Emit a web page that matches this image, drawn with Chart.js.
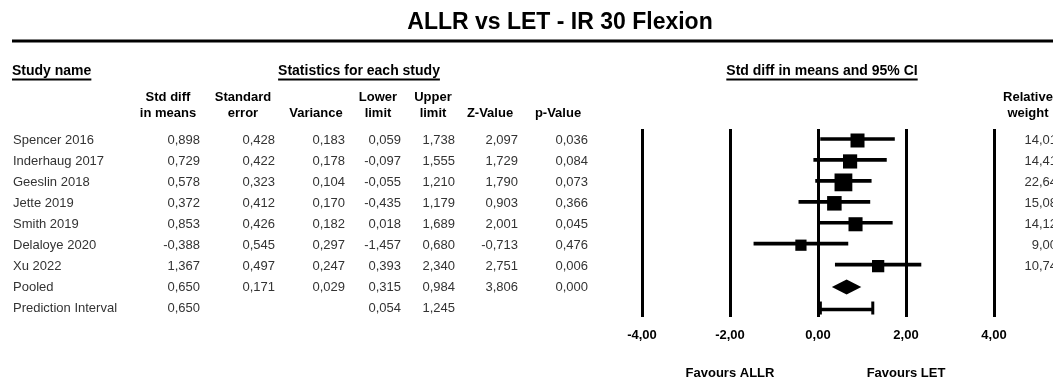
<!DOCTYPE html>
<html>
<head>
<meta charset="utf-8">
<script src="https://cdn.jsdelivr.net/npm/chart.js@4.4.1/dist/chart.umd.min.js"></script>
<style>
  html, body { margin: 0; padding: 0; background: #fff; overflow: hidden; }
  #wrap { width: 1053px; height: 380px; position: relative; }
</style>
</head>
<body>
<div id="wrap"><canvas id="forest" width="1053" height="380"></canvas></div>
<script>
// Forest plot: standardised mean difference, ALLR vs LET, internal rotation at 30° flexion
const chartTitle = 'ALLR vs LET - IR 30 Flexion';
const studies = ['Spencer 2016', 'Inderhaug 2017', 'Geeslin 2018', 'Jette 2019', 'Smith 2019', 'Delaloye 2020', 'Xu 2022'];
const stdDiff  = [0.898, 0.729, 0.578, 0.372, 0.853, -0.388, 1.367];
const stdErr   = [0.428, 0.422, 0.323, 0.412, 0.426, 0.545, 0.497];
const variance = [0.183, 0.178, 0.104, 0.170, 0.182, 0.297, 0.247];
const lowerLim = [0.059, -0.097, -0.055, -0.435, 0.018, -1.457, 0.393];
const upperLim = [1.738, 1.555, 1.210, 1.179, 1.689, 0.680, 2.340];
const zValue   = [2.097, 1.729, 1.790, 0.903, 2.001, -0.713, 2.751];
const pValue   = [0.036, 0.084, 0.073, 0.366, 0.045, 0.476, 0.006];
const relWeight = [14.01, 14.41, 22.64, 15.08, 14.12, 9.00, 10.74];

// Pooled (random effects) summary and prediction interval
const pooled = { label: 'Pooled', est: 0.650, se: 0.171, variance: 0.029, lower: 0.315, upper: 0.984, z: 3.806, p: 0.000 };
const prediction = { label: 'Prediction Interval', est: 0.650, lower: 0.054, upper: 1.245 };

const xTicks = [-4, -2, 0, 2, 4];
const favourLabels = [{ text: 'Favours ALLR', at: -2 }, { text: 'Favours LET', at: 2 }];

const FONT = "'Liberation Sans', Arial, Helvetica, sans-serif";
const fmt3 = v => v.toFixed(3).replace('.', ',');
const fmt2 = v => v.toFixed(2).replace('.', ',');

const pooledRow = studies.length;
const predRow = studies.length + 1;

function text(ctx, str, x, y, align, font, color) {
  ctx.font = font;
  ctx.textAlign = align;
  ctx.textBaseline = 'middle';
  ctx.fillStyle = color;
  ctx.fillText(str, x, y);
}

function underlined(ctx, str, x, y, align, font) {
  text(ctx, str, x, y, align, font, '#000');
  const w = ctx.measureText(str).width;
  let x0 = x;
  if (align === 'center') x0 = x - w / 2;
  else if (align === 'right') x0 = x - w;
  ctx.save();
  ctx.strokeStyle = '#000';
  ctx.lineWidth = 2;
  ctx.beginPath();
  ctx.moveTo(x0, y + 8.5);
  ctx.lineTo(x0 + w, y + 8.5);
  ctx.stroke();
  ctx.restore();
}

const forestDecor = {
  id: 'forestDecor',
  afterDatasetsDraw(chart) {
    const { ctx, scales: { x, y } } = chart;
    ctx.save();
    ctx.fillStyle = '#000';
    ctx.strokeStyle = '#000';
    // pooled diamond
    const py = y.getPixelForValue(pooledRow);
    const half = 7.5;
    ctx.beginPath();
    ctx.moveTo(x.getPixelForValue(pooled.lower), py);
    ctx.lineTo(x.getPixelForValue(pooled.est), py - half);
    ctx.lineTo(x.getPixelForValue(pooled.upper), py);
    ctx.lineTo(x.getPixelForValue(pooled.est), py + half);
    ctx.closePath();
    ctx.fill();
    // end caps of the prediction interval
    const qy = y.getPixelForValue(predRow);
    ctx.lineWidth = 3;
    [prediction.lower, prediction.upper].forEach(v => {
      const px = x.getPixelForValue(v);
      ctx.beginPath();
      ctx.moveTo(px, qy - 6.5);
      ctx.lineTo(px, qy + 6.5);
      ctx.stroke();
    });
    ctx.restore();
  },
  afterDraw(chart) {
    const { ctx, scales: { x, y } } = chart;
    ctx.save();
    // title and rule
    text(ctx, chartTitle, 560, 23, 'center', `bold 23px ${FONT}`, '#000');
    ctx.strokeStyle = '#000';
    ctx.lineWidth = 3;
    ctx.beginPath();
    ctx.moveTo(12, 41);
    ctx.lineTo(1053, 41);
    ctx.stroke();

    // section headings
    const secFont = `bold 14px ${FONT}`;
    underlined(ctx, 'Study name', 12, 71, 'left', secFont);
    underlined(ctx, 'Statistics for each study', 359, 71, 'center', secFont);
    underlined(ctx, 'Std diff in means and 95% CI', 822, 71, 'center', secFont);

    // column headings
    const hFont = `bold 13px ${FONT}`;
    const heads = [
      ['Std diff', 'in means', 168],
      ['Standard', 'error', 243],
      ['', 'Variance', 316],
      ['Lower', 'limit', 378],
      ['Upper', 'limit', 433],
      ['', 'Z-Value', 490],
      ['', 'p-Value', 558],
      ['Relative', 'weight', 1028]
    ];
    heads.forEach(([a, b, cx]) => {
      if (a) text(ctx, a, cx, 97, 'center', hFont, '#000');
      text(ctx, b, cx, 113, 'center', hFont, '#000');
    });

    // study rows
    const dFont = `13px ${FONT}`;
    const dCol = '#333';
    const colX = [200, 275, 345, 401, 455, 518, 588];
    studies.forEach((name, i) => {
      const ry = y.getPixelForValue(i);
      text(ctx, name, 13, ry, 'left', dFont, dCol);
      const vals = [stdDiff[i], stdErr[i], variance[i], lowerLim[i], upperLim[i], zValue[i], pValue[i]];
      vals.forEach((v, k) => text(ctx, fmt3(v), colX[k], ry, 'right', dFont, dCol));
      text(ctx, relWeight[i].toFixed(2).replace('.', ','), 1057, ry, 'right', dFont, dCol);
    });
    // pooled row
    const py = y.getPixelForValue(pooledRow);
    text(ctx, pooled.label, 13, py, 'left', dFont, dCol);
    [pooled.est, pooled.se, pooled.variance, pooled.lower, pooled.upper, pooled.z, pooled.p]
      .forEach((v, k) => text(ctx, fmt3(v), colX[k], py, 'right', dFont, dCol));
    // prediction row
    const qy = y.getPixelForValue(predRow);
    text(ctx, prediction.label, 13, qy, 'left', dFont, dCol);
    text(ctx, fmt3(prediction.est), colX[0], qy, 'right', dFont, dCol);
    text(ctx, fmt3(prediction.lower), colX[3], qy, 'right', dFont, dCol);
    text(ctx, fmt3(prediction.upper), colX[4], qy, 'right', dFont, dCol);

    // favours labels under the axis
    favourLabels.forEach(f => text(ctx, f.text, x.getPixelForValue(f.at), 373, 'center', `bold 13px ${FONT}`, '#000'));
    ctx.restore();
  }
};

const ciData = studies.map((_, i) => ({ x: [lowerLim[i], upperLim[i]], y: i }));
const predData = [{ x: [prediction.lower, prediction.upper], y: predRow }];
const pointData = stdDiff.map((v, i) => ({ x: v, y: i }));
// square side grows with the square root of the relative weight
const pointRadii = relWeight.map(w => Math.sqrt(w) * 3.74 / Math.SQRT2);

new Chart(document.getElementById('forest'), {
  type: 'bar',
  data: {
    datasets: [
      {
        type: 'scatter',
        label: 'Std diff in means',
        data: pointData,
        pointStyle: 'rect',
        pointRadius: pointRadii,
        pointHoverRadius: pointRadii,
        backgroundColor: '#000',
        borderWidth: 0,
        order: 0
      },
      {
        type: 'bar',
        label: '95% CI',
        indexAxis: 'y',
        data: ciData,
        barThickness: 3,
        backgroundColor: '#000',
        borderWidth: 0,
        order: 1
      },
      {
        type: 'bar',
        label: 'Prediction interval',
        indexAxis: 'y',
        data: predData,
        barThickness: 3,
        backgroundColor: '#000',
        borderWidth: 0,
        order: 1
      }
    ]
  },
  options: {
    responsive: false,
    animation: false,
    devicePixelRatio: 1,
    layout: { padding: { left: 642, right: 59, top: 129, bottom: 33 } },
    plugins: { legend: { display: false }, tooltip: { enabled: false }, title: { display: false } },
    scales: {
      x: {
        type: 'linear',
        offset: false,
        min: xTicks[0],
        max: xTicks[xTicks.length - 1],
        afterBuildTicks: s => { s.ticks = xTicks.map(v => ({ value: v })); },
        afterFit: s => { s.height = 30; },
        grid: { color: '#000', lineWidth: 3, drawTicks: false, offset: false },
        border: { display: false },
        ticks: {
          padding: 11,
          color: '#000',
          autoSkip: false,
          maxRotation: 0,
          font: { family: FONT, size: 13, weight: 'bold' },
          callback: v => fmt2(v)
        }
      },
      y: {
        type: 'linear',
        display: false,
        offset: false,
        grid: { offset: false },
        reverse: true,
        min: -0.549,
        max: 8.429
      }
    }
  },
  plugins: [forestDecor]
});
</script>
</body>
</html>
